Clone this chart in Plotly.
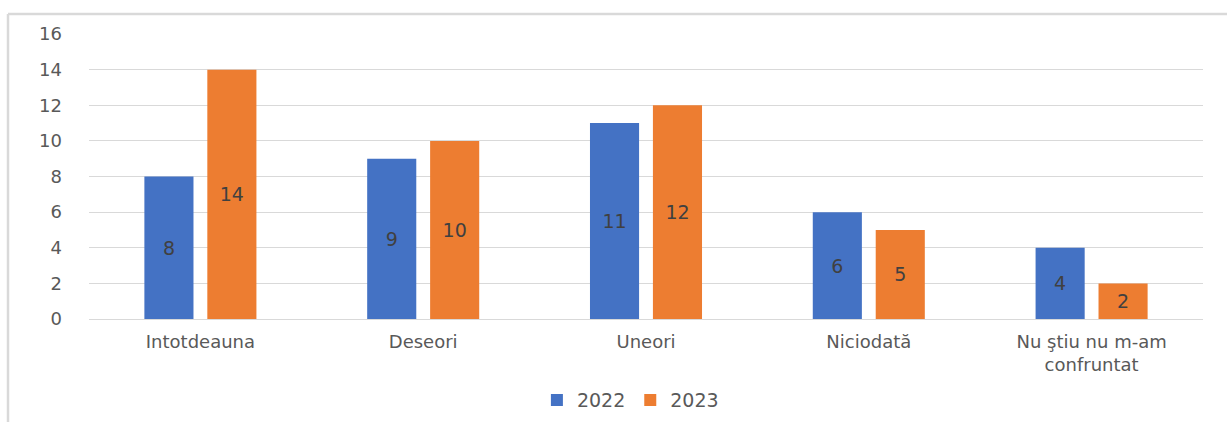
import plotly.graph_objects as go

categories = ["Intotdeauna", "Deseori", "Uneori", "Niciodată", "Nu ştiu nu m-am<br>confruntat"]
values_2022 = [8, 9, 11, 6, 4]
values_2023 = [14, 10, 12, 5, 2]
series_names = ["2022", "2023"]
y_ticks = [0, 2, 4, 6, 8, 10, 12, 14, 16]

BLUE = "#4472C4"
ORANGE = "#ED7D31"
TEXT = "#595959"
LABEL = "#404040"
FONT = "DejaVu Sans"

fig = go.Figure()
for name, vals, color in [(series_names[0], values_2022, BLUE), (series_names[1], values_2023, ORANGE)]:
    fig.add_trace(go.Bar(
        name=name,
        x=categories,
        y=vals,
        marker=dict(color=color, line=dict(width=0)),
        text=[str(v) for v in vals],
        textposition="inside",
        insidetextanchor="middle",
        textangle=0,
        textfont=dict(family=FONT, size=19, color=LABEL),
        cliponaxis=False,
    ))

W, H = 1227, 422
ml, mr, mt, mb = 89, 24, 34, 103

fig.update_layout(
    width=W,
    height=H,
    margin=dict(l=ml, r=mr, t=mt, b=mb, pad=0, autoexpand=False),
    paper_bgcolor="white",
    plot_bgcolor="white",
    barmode="group",
    bargap=0.435,
    bargroupgap=0.22,
    font=dict(family=FONT, size=18, color=TEXT),
    showlegend=True,
    legend=dict(
        orientation="h",
        x=0.486,
        xanchor="center",
        y=-0.285,
        yanchor="middle",
        font=dict(family=FONT, size=19, color=TEXT),
        itemwidth=30,
        traceorder="normal",
    ),
    xaxis=dict(
        showgrid=False,
        showline=False,
        ticks="",
        tickfont=dict(family=FONT, size=18, color=TEXT),
        ticklabelstandoff=10,
    ),
    yaxis=dict(
        range=[0, 16],
        tickvals=y_ticks,
        showgrid=True,
        gridcolor="#D9D9D9",
        gridwidth=1.3,
        zeroline=True,
        zerolinecolor="#D9D9D9",
        zerolinewidth=1.3,
        showline=False,
        ticks="",
        tickfont=dict(family=FONT, size=18, color=TEXT),
        ticklabelstandoff=26,
    ),
)

# Chart frame: top and left edges
pw = W - ml - mr
ph = H - mt - mb
x0 = (8 - ml) / pw
y_top = (H - 14 - mb) / ph
x1 = (W - ml) / pw
y_bot = (0 - mb) / ph
fig.add_shape(type="line", xref="paper", yref="paper", x0=x0, x1=x1, y0=y_top, y1=y_top,
              line=dict(color="#D9D9D9", width=2.5))
fig.add_shape(type="line", xref="paper", yref="paper", x0=x0, x1=x0, y0=y_top, y1=y_bot,
              line=dict(color="#D9D9D9", width=2.5))

fig.write_html("out.html")
